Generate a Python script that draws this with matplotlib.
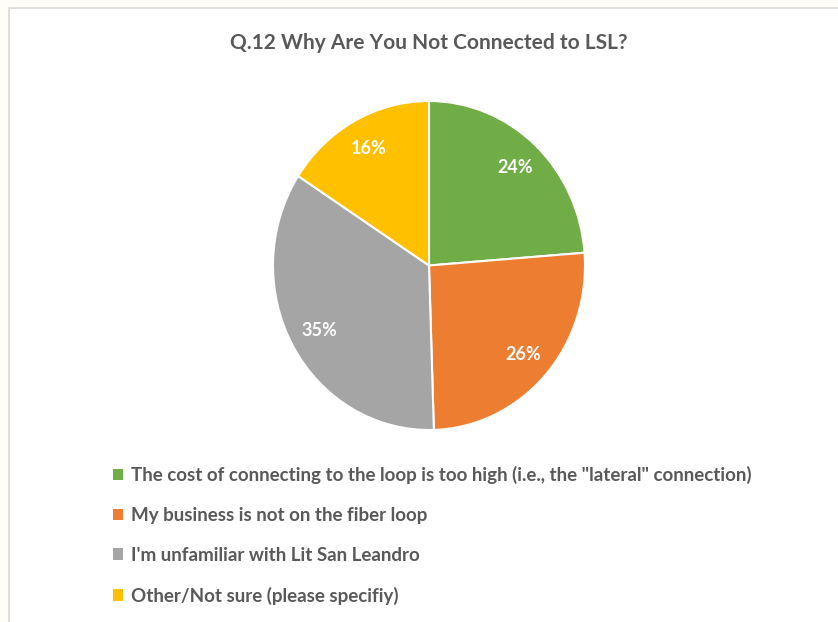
import matplotlib
matplotlib.use("Agg")
import matplotlib.pyplot as plt
from matplotlib.patches import Patch, Rectangle

title = "Q.12 Why Are You Not Connected to LSL?"
categories = [
    'The cost of connecting to the loop is too high (i.e., the "lateral" connection)',
    "My business is not on the fiber loop",
    "I'm unfamiliar with Lit San Leandro",
    "Other/Not sure (please specifiy)",
]
values = [24, 26, 35, 16]
pct_labels = ["24%", "26%", "35%", "16%"]
colors = ["#70AD47", "#ED7D31", "#A5A5A5", "#FFC000"]

plt.rcParams['font.family'] = ['Lato', 'DejaVu Sans']

W, H = 838, 622
fig = plt.figure(figsize=(W / 100, H / 100), dpi=100)
fig.patch.set_facecolor("#FFFDF7")

# white chart area with light gray border
fig.patches.append(Rectangle((9 / W, -0.01), 1, 1.01 - 8 / H, transform=fig.transFigure,
                             facecolor="white", edgecolor="#D9D9D9", linewidth=1.2, zorder=-5))

ax = fig.add_axes([273 / W, (H - 430) / H, 312 / W, 329 / H])
ax.set_zorder(2)
wedges, texts = ax.pie(values, colors=colors, startangle=90, counterclock=False,
                       labels=pct_labels, labeldistance=0.81, radius=1.0,
                       wedgeprops=dict(edgecolor="white", linewidth=1.5),
                       textprops=dict(color="white", fontsize=13, fontweight="bold"))
for t in texts:
    t.set_ha("center")
    t.set_va("center")
ax.set_aspect("auto")
ax.set_xlim(-1, 1)
ax.set_ylim(-1, 1)
ax.axis("off")

fig.text(429 / W, 1 - 43 / H, title, ha="center", va="center",
         fontsize=15, fontweight="bold", color="#595959")

handles = [Patch(facecolor=c, edgecolor="none") for c in colors]
leg = fig.legend(handles, categories, loc="upper left",
                 bbox_to_anchor=(96 / W, 1 - 449 / H), frameon=False,
                 handlelength=0.55, handleheight=0.55, handletextpad=0.4,
                 labelspacing=1.22, prop=dict(size=13.5, weight="bold"),
                 labelcolor="#595959")

fig.savefig("out.png", dpi=100, facecolor=fig.get_facecolor())
